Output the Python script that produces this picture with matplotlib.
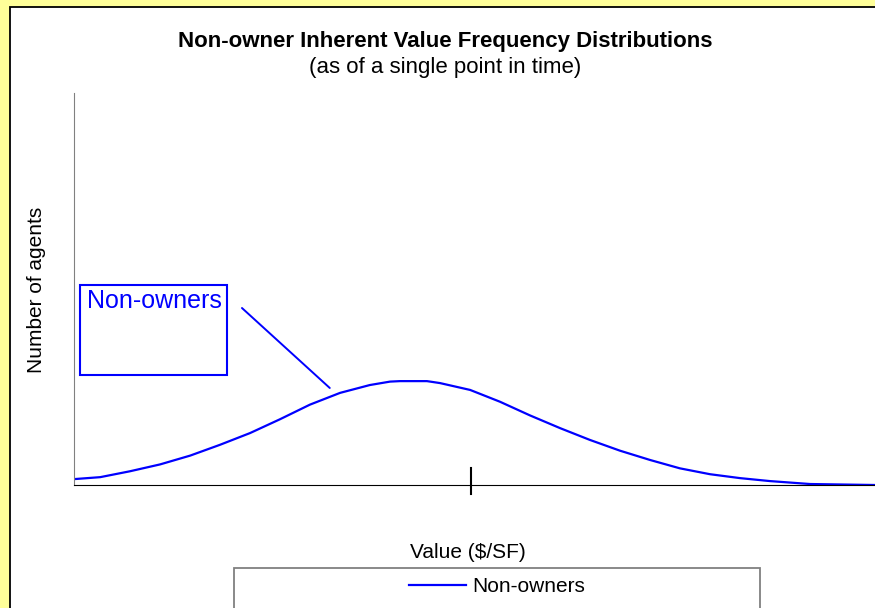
import matplotlib.pyplot as plt
from matplotlib.patches import Rectangle

plt.rcParams['font.family'] = ['Liberation Sans', 'DejaVu Sans']

# value ($/SF) and number of agents
value = [0, 6.6, 14.1, 21.7, 29.3, 36.8, 44.4, 51.9, 59.5, 67.1, 74.6, 79.7, 82.2,
         89.0, 92.3, 99.9, 107.4, 115.0, 122.6, 130.1, 137.7, 145.3, 152.8, 160.4,
         168.0, 175.5, 185.6, 202]
agents = [6, 8, 14, 21, 30, 41, 53, 67, 82, 94, 102, 105.5, 106,
          106, 104, 97, 85, 71, 58, 46, 35, 25.5, 17, 11,
          7, 4, 1, 0]
mid_tick = [100]
series_name = 'Non-owners'

fig = plt.figure(figsize=(8.75, 6.08), dpi=100)
fig.patch.set_facecolor('#FFFF99')

# white chart panel (runs off the right and bottom edges)
fig.patches.append(Rectangle((10 / 875, -0.05), 1.0, 1.05 - 7 / 608,
                             transform=fig.transFigure, facecolor='white',
                             edgecolor='black', linewidth=1.3, zorder=-10))
# legend box, also running off the bottom edge
fig.patches.append(Rectangle((234 / 875, -0.05), (760 - 234) / 875, 0.05 + 1 - 568 / 608,
                             transform=fig.transFigure, facecolor='white',
                             edgecolor='#808080', linewidth=1.3, zorder=-5))

ax = fig.add_axes([74 / 875, 1 - 485 / 608, 1 - 74 / 875, (485 - 93) / 608])
ax.patch.set_alpha(0)
ax.plot(value, agents, color='#0000FF', linewidth=1.6, label='Non-owners')
ax.set_xlim(0, 202)
ax.set_ylim(0, 400)

for s in ['top', 'right']:
    ax.spines[s].set_visible(False)
ax.spines['left'].set_color('#808080')
ax.spines['bottom'].set_color('black')
ax.set_yticks([])
ax.set_xticks([])
# single cross tick on the value axis
ax.axvline(mid_tick[0], ymin=-9 / 392, ymax=17 / 392, color='black', linewidth=1.5,
           clip_on=False)

# label box with leader line
ax.add_patch(Rectangle((0.0075, 0.2806), 0.1835, 0.2296, transform=ax.transAxes,
                       facecolor='white', edgecolor='#0000FF', linewidth=1.5, clip_on=False))
ax.text(0.016, 0.500, series_name, transform=ax.transAxes, ha='left', va='top',
        fontsize=18, color='#0000FF')
ax.annotate('', xy=(64.5, 99), xycoords='data', xytext=(0.2097, 0.4515),
            textcoords='axes fraction',
            arrowprops=dict(arrowstyle='-', color='#0000FF', linewidth=1.4,
                            shrinkA=0, shrinkB=0))

fig.text(0.5086, 1 - 42 / 608, 'Non-owner Inherent Value Frequency Distributions',
         ha='center', va='center', fontsize=16, fontweight='bold')
fig.text(0.5086, 1 - 68 / 608, '(as of a single point in time)',
         ha='center', va='center', fontsize=16)
fig.text(468 / 875, 1 - 552 / 608, 'Value ($/SF)', ha='center', va='center', fontsize=15)
fig.text(37 / 875, 1 - 290 / 608, 'Number of agents', ha='center', va='center',
         rotation=90, fontsize=15)

fig.legend(loc='center', bbox_to_anchor=(497 / 875, 1 - 587 / 608), frameon=False,
           fontsize=15, handlelength=2.7, handletextpad=0.3)

fig.savefig('out.png', dpi=100, facecolor=fig.get_facecolor())
